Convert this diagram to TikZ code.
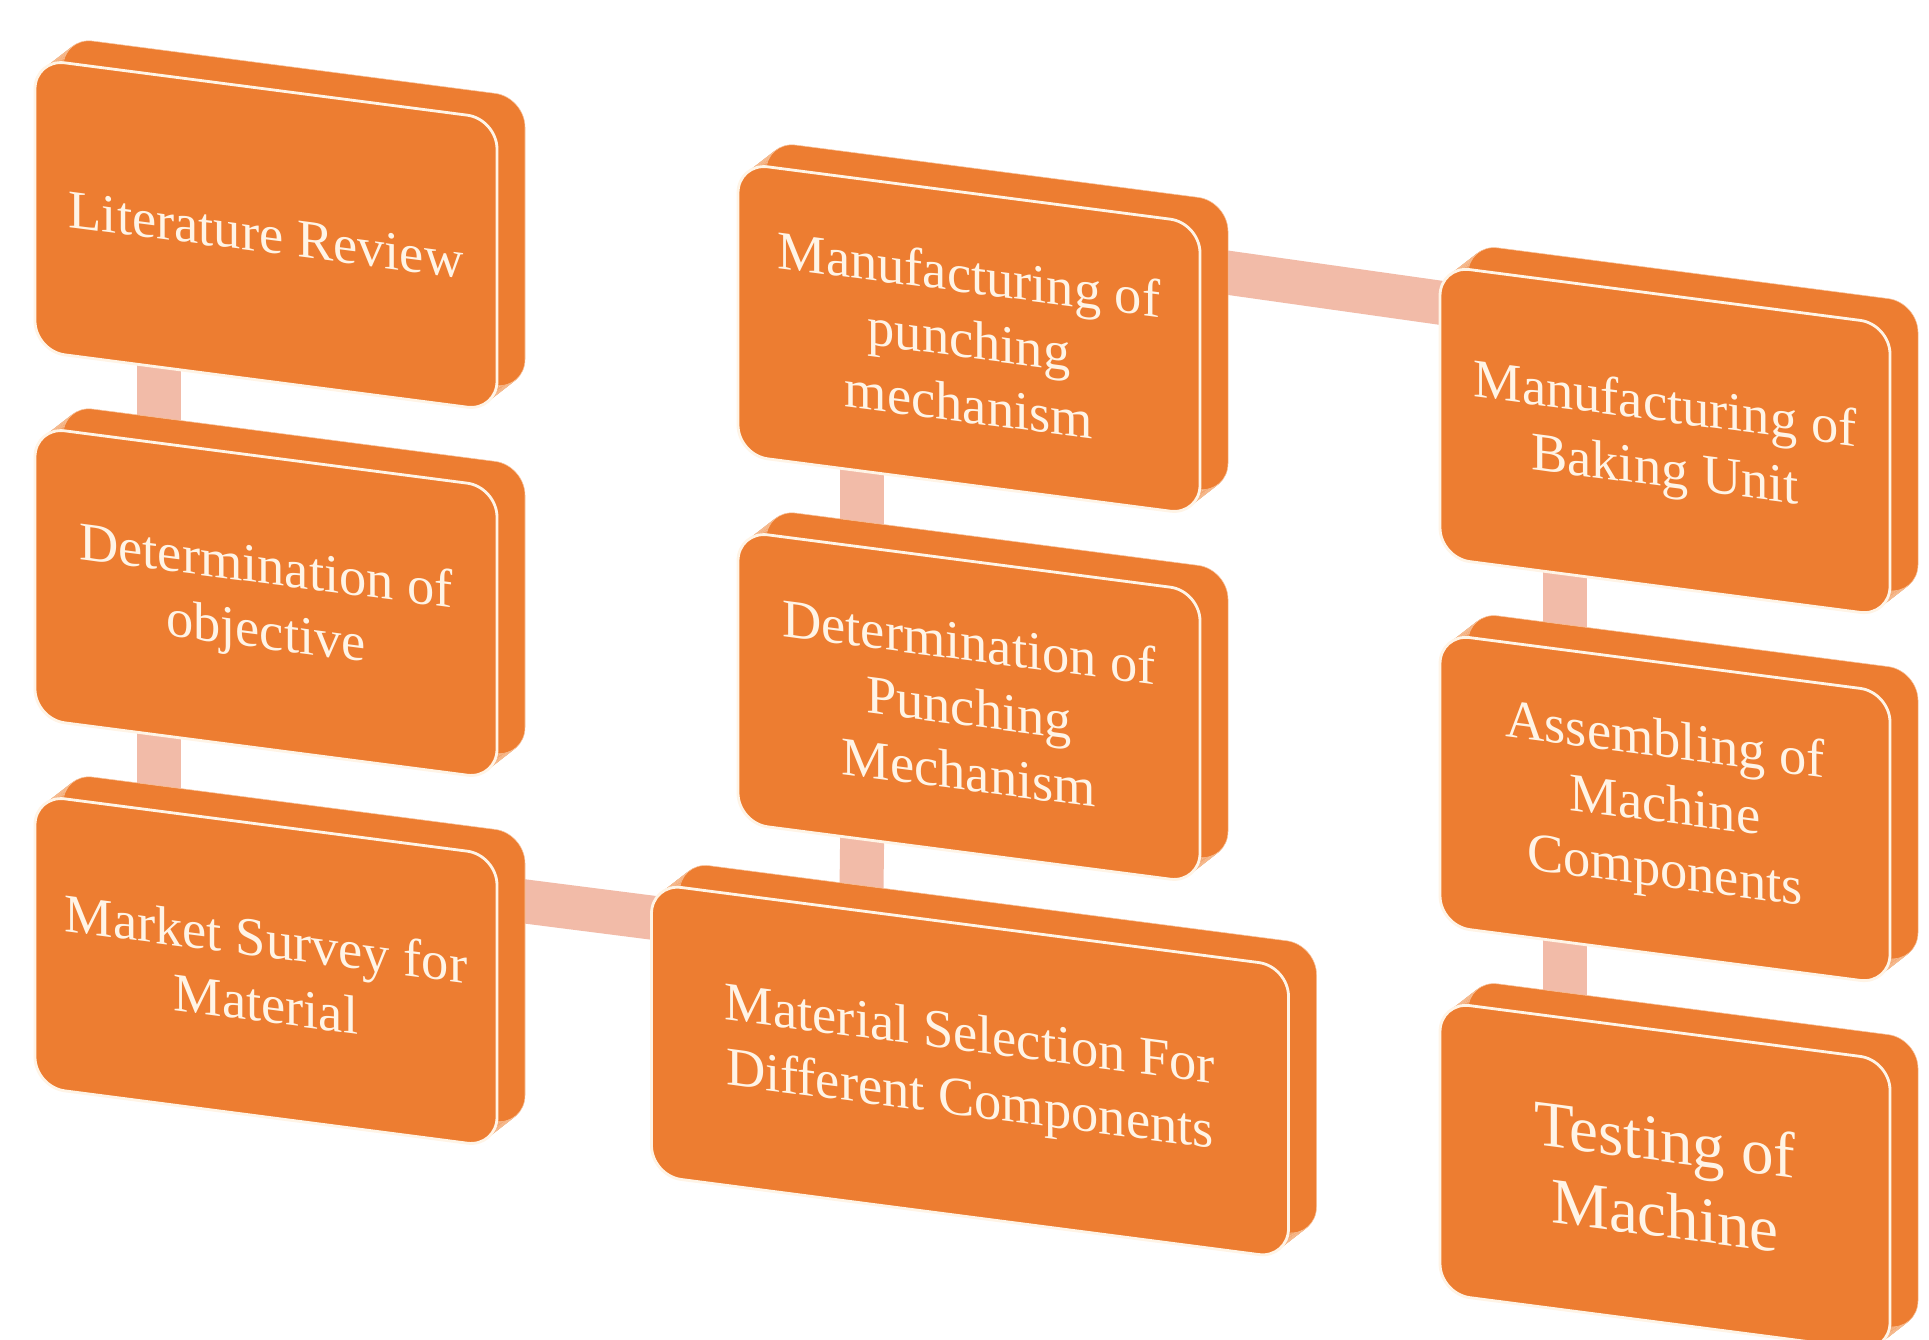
\documentclass[tikz,border=0pt]{standalone}
\usepackage{fontspec}
\setmainfont{Liberation Serif}
\usetikzlibrary{calc,backgrounds}
\definecolor{boxor}{HTML}{ED7D31}
\definecolor{cream}{HTML}{FFF4E6}
\definecolor{connpink}{HTML}{F2BBA8}
\tikzset{
  card/.style={rectangle, rounded corners=0.6cm, fill=boxor, draw=cream,
    line width=1.6pt, inner sep=0pt, text=cream, align=center,
    font=\fontsize{31}{37}\selectfont, transform shape},
  bigtext/.style={font=\fontsize{37}{43}\selectfont},
  conn/.style={draw=connpink, line width=0.88cm, shorten <=-0.4cm, shorten >=-0.4cm},
}
\newcommand\makecard[7]{%
  \begin{scope}[shift={(#2,#3)}, yslant=-0.13]
    \foreach \k in {0,...,24}{
      \fill[boxor, draw=cream!60!boxor, line width=0.3pt, rounded corners=0.6cm]
        ({-#4/2 + \k/24*28}, {-#5/2 - \k/24*25.4}) rectangle ++(#4,#5);
    }
    \node[card, #7, minimum width={#4*0.02cm}, minimum height={#5*0.02cm}] (#1) at (0,0) {#6};
  \end{scope}}
\begin{document}
\begin{tikzpicture}[x=0.02cm, y=-0.02cm]
  \clip (0,0) rectangle (1929,1339);
  \makecard{a}{266}{235}{462}{292}{Literature Review}{}
  \makecard{b}{266}{603}{462}{292}{Determination of\\objective}{}
  \makecard{c}{266}{971}{462}{292}{Market Survey for\\Material}{}
  \makecard{d}{969}{339}{462}{292}{Manufacturing of\\punching\\mechanism}{}
  \makecard{e}{969}{707}{462}{292}{Determination of\\Punching\\Mechanism}{}
  \makecard{f}{970}{1071}{637}{292}{Material Selection For\\Different Components}{}
  \makecard{g}{1665}{441}{450}{292}{Manufacturing of\\Baking Unit}{}
  \makecard{h}{1665}{809}{450}{292}{Assembling of\\Machine\\Components}{}
  \makecard{i}{1665}{1177}{450}{292}{Testing of\\Machine}{bigtext}
  \begin{pgfonlayer}{background}
    \fill[white] (0,0) rectangle (1929,1339);
    \draw[conn] ($(a.south west)!0.27!(a.south east)$) -- ($(b.north west)!0.27!(b.north east)$);
    \draw[conn] ($(b.south west)!0.27!(b.south east)$) -- ($(c.north west)!0.27!(c.north east)$);
    \draw[conn] ($(d.south west)!0.27!(d.south east)$) -- ($(e.north west)!0.27!(e.north east)$);
    \draw[conn] ($(e.south west)!0.27!(e.south east)$) -- ($(f.north west)!0.33!(f.north east)$);
    \draw[conn] ($(g.south west)!0.28!(g.south east)$) -- ($(h.north west)!0.28!(h.north east)$);
    \draw[conn] ($(h.south west)!0.28!(h.south east)$) -- ($(i.north west)!0.28!(i.north east)$);
    \draw[conn] ($(c.north east)!0.15!(c.south east)$) -- ($(f.north west)!0.12!(f.south west)$);
    \draw[conn] ($(d.north east)!0.16!(d.south east)$) -- ($(g.north west)!0.13!(g.south west)$);
  \end{pgfonlayer}
\end{tikzpicture}
\end{document}
